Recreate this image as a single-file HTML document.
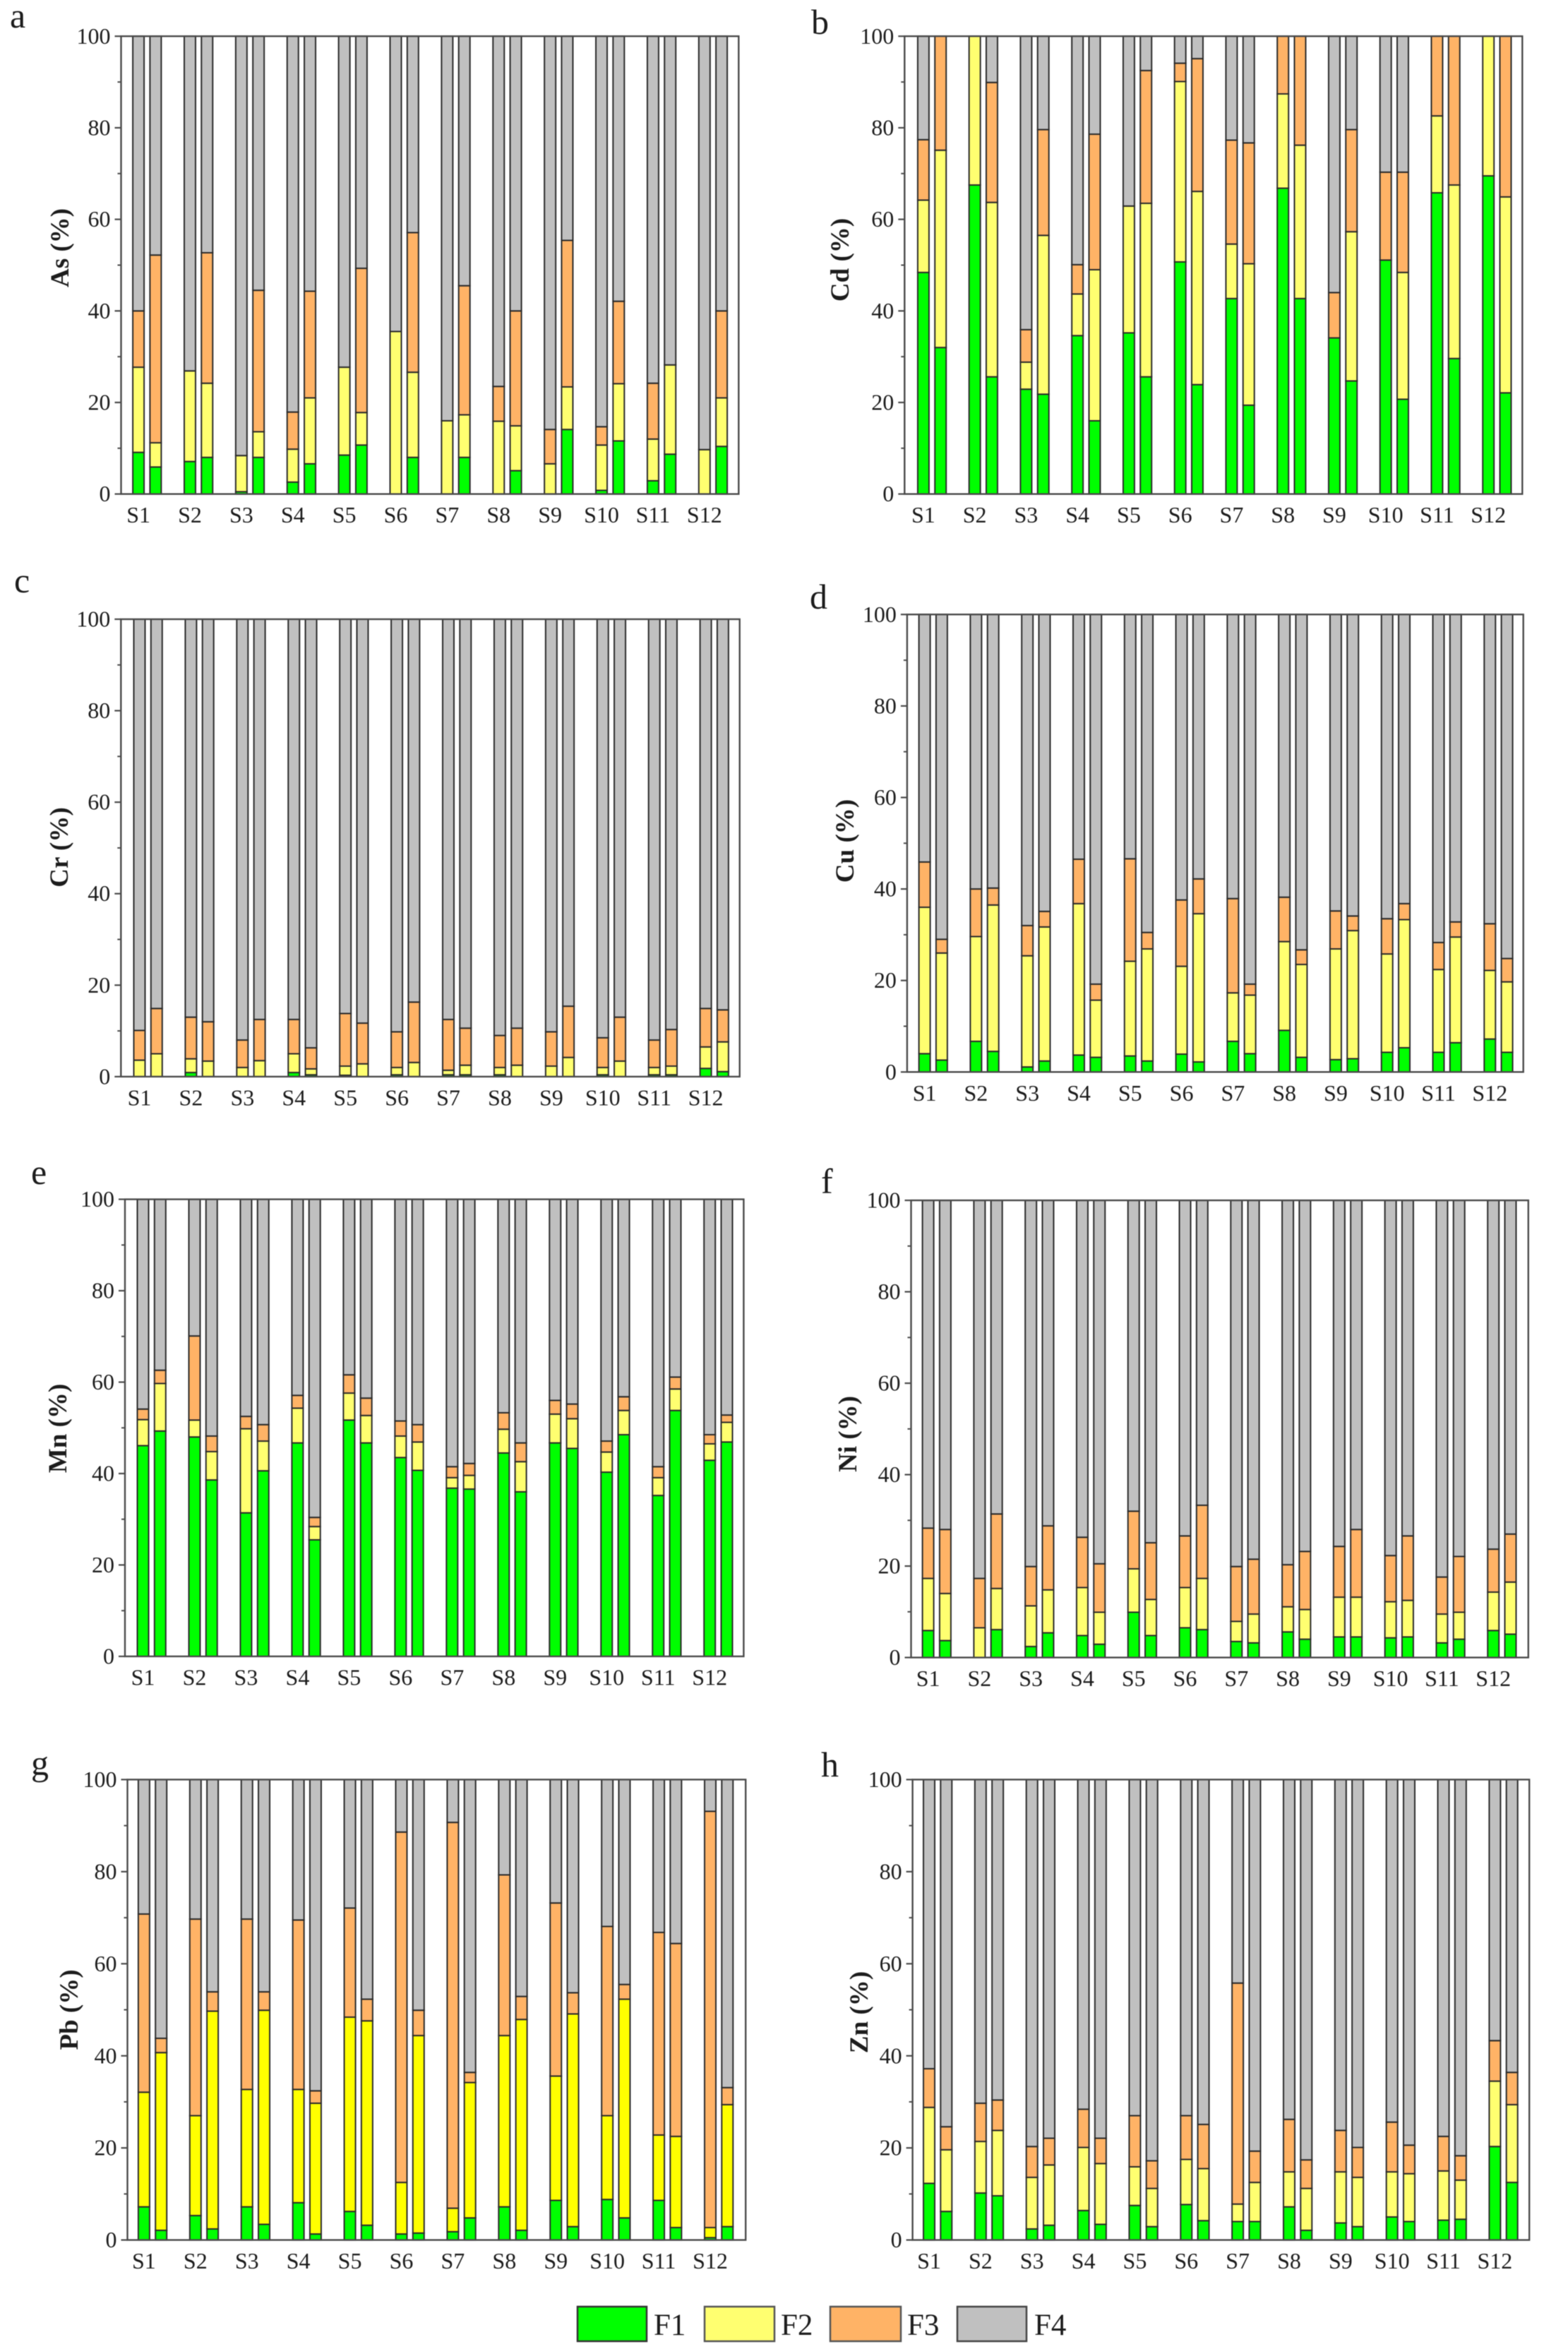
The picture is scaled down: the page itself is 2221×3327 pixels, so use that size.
<!DOCTYPE html>
<html lang="en">
<head>
<meta charset="utf-8">
<title>Metal fractions F1-F4 by site</title>
<style>
html,body{margin:0;padding:0;background:#fff;}
body{width:2221px;height:3327px;overflow:hidden;}
svg{display:block;filter:blur(0.6px);}
text{font-family:"Liberation Serif",serif;fill:#1c1c1c;}
</style>
</head>
<body>
<svg id="figure" xmlns="http://www.w3.org/2000/svg" width="2221" height="3327" viewBox="0 0 2221 3327">
  <rect x="0" y="0" width="2221" height="3327" fill="#ffffff"/>
  <g id="panels"></g>
  <g id="legend">
    <g>
      <rect x="818" y="3267" width="98" height="49" fill="#00ff00" stroke="#333" stroke-width="2.5"/>
      <text x="926" y="3307" font-size="43">F1</text>
    </g>
    <g>
      <rect x="998" y="3267" width="99" height="49" fill="#ffff70" stroke="#555" stroke-width="2.5"/>
      <text x="1106" y="3307" font-size="43">F2</text>
    </g>
    <g>
      <rect x="1176" y="3267" width="100" height="49" fill="#ffb366" stroke="#555" stroke-width="2.5"/>
      <text x="1285" y="3307" font-size="43">F3</text>
    </g>
    <g>
      <rect x="1356" y="3267" width="98" height="49" fill="#c0c0c0" stroke="#444" stroke-width="2.5"/>
      <text x="1465" y="3307" font-size="43">F4</text>
    </g>
  </g>
</svg>
<script>
// Chart data: sites, axis ticks and stacked cumulative tops per metal.
// Each array holds 24 bars: two bars (first, second) per site S1..S12.
const categories = ["S1","S2","S3","S4","S5","S6","S7","S8","S9","S10","S11","S12"];
const majorTicks = [0,20,40,60,80,100];
const minorTicks = [10,30,50,70,90];

const asF1 = [9.1,5.9, 7.1,8, 0.5,8, 2.6,6.6, 8.5,10.7, 0,8, 0,8, 0,5.1, 0,14.1, 0.8,11.6, 2.9,8.7, 0,10.4];
const asF2 = [27.7,11.2, 26.9,24.2, 8.4,13.6, 9.8,21, 27.7,17.8, 35.5,26.6, 16,17.3, 15.9,14.9, 6.6,23.4, 10.7,24.1, 12,28.2, 9.7,21];
const asF3 = [40,52.2, 26.9,52.7, 8.4,44.5, 17.9,44.3, 27.7,49.3, 35.5,57.1, 16,45.5, 23.5,40, 14.1,55.4, 14.7,42.1, 24.2,28.2, 9.7,40];

const cdF1 = [48.4,32, 67.5,25.6, 22.9,21.8, 34.6,16, 35.2,25.6, 50.7,23.9, 42.7,19.4, 66.8,42.7, 34.1,24.7, 51.1,20.7, 65.8,29.6, 69.5,22.1];
const cdF2 = [64.2,75.1, 100,63.7, 28.8,56.5, 43.7,49, 62.9,63.5, 90.1,66.1, 54.6,50.3, 87.4,76.2, 34.1,57.3, 51.1,48.4, 82.6,67.5, 100,64.9];
const cdF3 = [77.4,100, 100,89.9, 35.9,79.6, 50.1,78.6, 62.9,92.5, 94.1,95.1, 77.3,76.7, 100,100, 44,79.6, 70.3,70.3, 100,100, 100,100];

const crF1 = [0,0, 0.9,0, 0,0, 0.9,0.4, 0.3,0, 0.4,0, 0.4,0.4, 0.4,0, 0,0, 0.4,0, 0.4,0.4, 1.8,1.1];
const crF2 = [3.6,5, 3.9,3.4, 2,3.5, 5,1.7, 2.3,2.8, 2,3.1, 1.4,2.5, 2,2.5, 2.3,4.2, 2,3.4, 2,2.3, 6.5,7.6];
const crF3 = [10.1,14.9, 13,12, 8,12.5, 12.5,6.3, 13.8,11.7, 9.8,16.3, 12.5,10.6, 9,10.6, 9.8,15.4, 8.5,13, 8,10.3, 14.9,14.6];

const cuF1 = [4,2.6, 6.7,4.5, 1.1,2.4, 3.7,3.2, 3.5,2.4, 3.9,2.2, 6.7,4, 9.1,3.2, 2.7,2.9, 4.3,5.3, 4.3,6.4, 7.2,4.3];
const cuF2 = [36,26, 29.6,36.5, 25.4,31.7, 36.8,15.7, 24.2,26.9, 23.1,34.6, 17.3,16.8, 28.5,23.5, 26.9,30.9, 25.8,33.3, 22.4,29.5, 22.2,19.7];
const cuF3 = [45.9,29, 40,40.2, 32,35.1, 46.5,19.2, 46.6,30.5, 37.6,42.2, 37.9,19.2, 38.2,26.7, 35.2,34.1, 33.5,36.8, 28.3,32.8, 32.4,24.8];

const mnF1 = [46.1,49.3, 48,38.6, 31.4,40.6, 46.7,25.5, 51.7,46.7, 43.5,40.7, 36.8,36.6, 44.5,36, 46.7,45.5, 40.3,48.5, 35.2,53.8, 42.9,46.9];
const mnF2 = [51.8,59.7, 51.7,44.8, 49.8,47.1, 54.3,28.4, 57.6,52.7, 48.2,46.9, 39.1,39.6, 49.7,42.6, 53,52, 44.7,53.8, 39.1,58.5, 46.5,51.2];
const mnF3 = [54.1,62.6, 70.1,48.2, 52.5,50.7, 57.1,30.4, 61.6,56.5, 51.5,50.7, 41.5,42.2, 53.3,46.7, 56,55.2, 47.1,56.8, 41.5,61.1, 48.5,52.8];

const niF1 = [5.9,3.7, 0,6.1, 2.4,5.4, 4.8,2.9, 9.9,4.8, 6.5,6.1, 3.5,3.2, 5.6,4, 4.5,4.5, 4.3,4.5, 3.2,4, 5.9,5.1];
const niF2 = [17.3,14, 6.5,15.1, 11.3,14.8, 15.3,9.9, 19.4,12.7, 15.3,17.3, 7.9,9.5, 11.1,10.5, 13.2,13.2, 12.2,12.5, 9.5,9.9, 14.3,16.5];
const niF3 = [28.3,28, 17.3,31.4, 19.9,28.8, 26.3,20.5, 32,25.1, 26.6,33.3, 19.9,21.5, 20.3,23.2, 24.3,28, 22.3,26.6, 17.6,22.1, 23.7,27];

const pbF1 = [7.2,2.1, 5.3,2.4, 7.2,3.4, 8.1,1.3, 6.2,3.2, 1.3,1.5, 1.8,4.8, 7.2,2.1, 8.6,2.9, 8.8,4.8, 8.6,2.7, 0.5,2.9];
const pbF2 = [32.1,40.7, 27,49.7, 32.7,49.9, 32.7,29.7, 48.4,47.6, 12.5,44.4, 6.9,34.2, 44.4,47.9, 35.6,49.1, 27,52.3, 22.8,22.5, 2.7,29.4];
const pbF3 = [70.8,43.8, 69.7,53.9, 69.7,53.9, 69.5,32.4, 72.1,52.3, 88.6,49.9, 90.7,36.4, 79.3,52.9, 73.2,53.7, 68.1,55.5, 66.8,64.4, 93.1,33.1];

const znF1 = [12.3,6.2, 10.2,9.6, 2.4,3.2, 6.4,3.4, 7.5,2.9, 7.7,4.2, 4,4, 7.2,2.1, 3.7,2.9, 5,4, 4.3,4.5, 20.3,12.5];
const znF2 = [28.8,19.6, 21.4,23.8, 13.6,16.3, 20.1,16.6, 15.9,11.2, 17.5,15.5, 7.8,12.5, 14.8,11.2, 14.8,13.6, 14.8,14.4, 15,13, 34.5,29.4];
const znF3 = [37.2,24.6, 29.7,30.4, 20.3,22.1, 28.4,22.1, 27,17.2, 27,25.1, 55.8,19.3, 26.2,17.4, 23.8,20.1, 25.6,20.6, 22.5,18.3, 43.3,36.4];

// Layout of each panel (geometry only, values come from the arrays above).
const panels = [
  {letter:"a",metal:"As",f1:asF1,f2:asF2,f3:asF3,left:171.5,right:1046.3,top:51.3,bottom:699.7,firstBar:196.1,lastBar:997.8,titleX:86,titleY:351,letterX:14,letterY:39,yellow:"#ffff70"},
  {letter:"b",metal:"Cd",f1:cdF1,f2:cdF2,f3:cdF3,left:1281.3,right:2156.3,top:51.3,bottom:699.7,firstBar:1307.9,lastBar:2108.2,titleX:1191,titleY:368,letterX:1149,letterY:48,yellow:"#ffff70"},
  {letter:"c",metal:"Cr",f1:crF1,f2:crF2,f3:crF3,left:171.3,right:1047.7,top:877,bottom:1524.9,firstBar:197.5,lastBar:999.6,titleX:85,titleY:1200,letterX:20,letterY:839,yellow:"#ffff70"},
  {letter:"d",metal:"Cu",f1:cuF1,f2:cuF2,f3:cuF3,left:1284.9,right:2157.7,top:870.3,bottom:1518.3,firstBar:1309.6,lastBar:2110.3,titleX:1198,titleY:1191,letterX:1147,letterY:862,yellow:"#ffff70"},
  {letter:"e",metal:"Mn",f1:mnF1,f2:mnF2,f3:mnF3,left:177,right:1053.4,top:1698.6,bottom:2346,firstBar:202.5,lastBar:1005.2,titleX:83,titleY:2023,letterX:44,letterY:1677,yellow:"#ffff70"},
  {letter:"f",metal:"Ni",f1:niF1,f2:niF2,f3:niF3,left:1290.5,right:2164.8,top:1700.1,bottom:2347.6,firstBar:1314.6,lastBar:2115.2,titleX:1202,titleY:2031,letterX:1163,letterY:1690,yellow:"#ffff70"},
  {letter:"g",metal:"Pb",f1:pbF1,f2:pbF2,f3:pbF3,left:180.5,right:1056.2,top:2520.5,bottom:3172.6,firstBar:203.9,lastBar:1006,titleX:99,titleY:2846.5,letterX:44,letterY:2514,yellow:"#ffff00"},
  {letter:"h",metal:"Zn",f1:znF1,f2:znF2,f3:znF3,left:1292.6,right:2166.2,top:2520.5,bottom:3172.6,firstBar:1316,lastBar:2117.4,titleX:1218,titleY:2850,letterX:1163,letterY:2516,yellow:"#ffff70"}
];

const NS = "http://www.w3.org/2000/svg";
const root = document.getElementById("panels");
const fractionNames = ["f1","f2","f3","f4"];
const BAR_OFFSET = 24.3;
const BAR_WIDTH = 16;
const AXIS_COLOR = "#4a4a4a";

function yScale(panel, value) {
  return panel.bottom - (value / 100) * (panel.bottom - panel.top);
}
function xScale(panel, siteIndex, barIndex) {
  const pitch = (panel.lastBar - panel.firstBar) / (categories.length - 1);
  return panel.firstBar + siteIndex * pitch + barIndex * BAR_OFFSET;
}
function axisLine(parent, x1, y1, x2, y2, width) {
  const line = document.createElementNS(NS, "line");
  line.setAttribute("x1", x1);
  line.setAttribute("y1", y1);
  line.setAttribute("x2", x2);
  line.setAttribute("y2", y2);
  line.setAttribute("stroke", AXIS_COLOR);
  line.setAttribute("stroke-width", width);
  parent.appendChild(line);
  return line;
}

panels.forEach(function (panel) {
  const key = panel.metal.toLowerCase();
  const group = document.createElementNS(NS, "g");
  
  
  root.appendChild(group);

  const colors = ["#00ff00", panel.yellow, "#ffb366", "#c0c0c0"];

  // Bars
  categories.forEach(function (cat, si) {
    [0, 1].forEach(function (bi) {
      const idx = si * 2 + bi;
      const tops = [panel.f1[idx], panel.f2[idx], panel.f3[idx], 100];
      let lower = 0;
      const cx = xScale(panel, si, bi);
      tops.forEach(function (upper, fi) {
        if (upper - lower > 0.05) {
          const seg = document.createElementNS(NS, "rect");
          seg.setAttribute("x", cx - BAR_WIDTH / 2);
          seg.setAttribute("y", yScale(panel, upper));
          seg.setAttribute("width", BAR_WIDTH);
          seg.setAttribute("height", yScale(panel, lower) - yScale(panel, upper));
          seg.setAttribute("fill", colors[fi]);
          seg.setAttribute("stroke", "#2b2b2b");
          seg.setAttribute("stroke-width", "2");
          
          
          group.appendChild(seg);
        }
        lower = Math.max(lower, upper);
      });
    });
  });

  // Frame
  const frame = document.createElementNS(NS, "rect");
  frame.setAttribute("x", panel.left);
  frame.setAttribute("y", panel.top);
  frame.setAttribute("width", panel.right - panel.left);
  frame.setAttribute("height", panel.bottom - panel.top);
  frame.setAttribute("fill", "none");
  frame.setAttribute("stroke", AXIS_COLOR);
  frame.setAttribute("stroke-width", "2.4");
  
  
  group.appendChild(frame);

  // Y ticks and labels
  majorTicks.forEach(function (v) {
    const y = yScale(panel, v);
    const tick = axisLine(group, panel.left - 9, y, panel.left, y, 2.2);
    
    
    const label = document.createElementNS(NS, "text");
    label.setAttribute("x", panel.left - 15);
    label.setAttribute("y", y + 10.5);
    label.setAttribute("text-anchor", "end");
    label.setAttribute("font-size", "32");
    
    
    label.textContent = String(v);
    group.appendChild(label);
  });
  minorTicks.forEach(function (v) {
    const y = yScale(panel, v);
    const tick = axisLine(group, panel.left - 5, y, panel.left, y, 2);
    
    
  });

  // X labels
  categories.forEach(function (cat, si) {
    const label = document.createElementNS(NS, "text");
    label.setAttribute("x", xScale(panel, si, 0));
    label.setAttribute("y", panel.bottom + 40.5);
    label.setAttribute("text-anchor", "middle");
    label.setAttribute("font-size", "32");
    
    
    label.textContent = cat;
    group.appendChild(label);
  });

  // Y title
  const title = document.createElementNS(NS, "text");
  title.setAttribute("x", panel.titleX + 11);
  title.setAttribute("y", panel.titleY);
  title.setAttribute("text-anchor", "middle");
  title.setAttribute("font-size", "37");
  title.setAttribute("font-weight", "bold");
  title.setAttribute("transform", "rotate(-90 " + (panel.titleX + 11) + " " + panel.titleY + ")");
  
  
  title.textContent = panel.metal + " (%)";
  group.appendChild(title);

  // Panel letter
  const letter = document.createElementNS(NS, "text");
  letter.setAttribute("x", panel.letterX);
  letter.setAttribute("y", panel.letterY);
  letter.setAttribute("font-size", "50");
  
  
  letter.textContent = panel.letter;
  group.appendChild(letter);
});
</script>
</body>
</html>
